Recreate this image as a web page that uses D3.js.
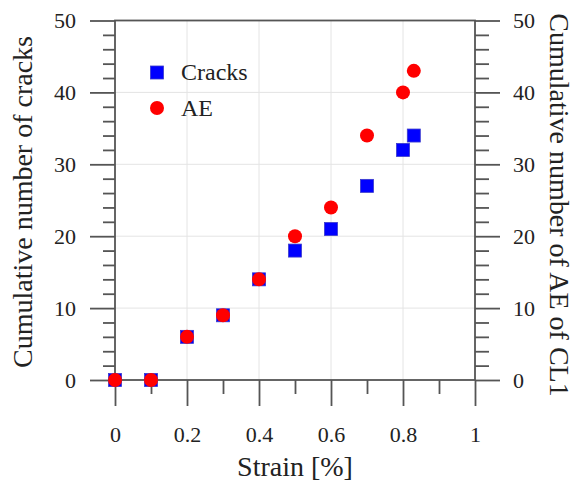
<!DOCTYPE html>
<html>
<head>
<meta charset="utf-8">
<script src="https://cdn.jsdelivr.net/npm/d3@7"></script>
<style>
  body { margin: 0; background: #fff; }
</style>
</head>
<body>
<svg width="585" height="486"></svg>
<script>
const strain = [0, 0.1, 0.2, 0.3, 0.4, 0.5, 0.6, 0.7, 0.8, 0.83];
const cracks = [0, 0, 6, 9, 14, 18, 21, 27, 32, 34];
const aeStrain = [0, 0.1, 0.2, 0.3, 0.4, 0.5, 0.6, 0.7, 0.8, 0.83];
const ae = [0, 0, 6, 9, 14, 20, 24, 34, 40, 43];
const xTicks = [0, 0.2, 0.4, 0.6, 0.8, 1];
const xMinor = [0.1, 0.3, 0.5, 0.7, 0.9];
const yTicks = [0, 10, 20, 30, 40, 50];
const yMinor = d3.range(2, 50, 2).filter(d => d % 10 !== 0);

const serif = "Times New Roman, Liberation Serif, Tinos, Noto Serif, DejaVu Serif, FreeSerif, serif";
const svg = d3.select("svg");
const mLeft = 115, mRight = 475, mTop = 20.5, mBottom = 380;
const x = d3.scaleLinear().domain([0, 1]).range([mLeft, mRight]);
const y = d3.scaleLinear().domain([0, 50]).range([mBottom, mTop]);
const axisCol = "#555";

// grid
const grid = svg.append("g");
grid.selectAll("line.gx").data(xTicks.slice(1, -1)).join("line")
  .attr("x1", d => x(d)).attr("x2", d => x(d))
  .attr("y1", mTop).attr("y2", mBottom)
  .attr("stroke", "#e4e4e4").attr("stroke-width", 1);
grid.selectAll("line.gy").data(yTicks.slice(1, -1)).join("line")
  .attr("y1", d => y(d)).attr("y2", d => y(d))
  .attr("x1", mLeft).attr("x2", mRight)
  .attr("stroke", "#e4e4e4").attr("stroke-width", 1);

function styleAxis(g) {
  g.attr("font-family", null).attr("font-size", null);
  g.select(".domain").remove();
  g.selectAll(".tick line").attr("stroke", axisCol).attr("stroke-width", 1.8);
  g.selectAll(".tick text").attr("fill", "#222")
    .style("font-family", serif).style("font-size", "22px");
}

// left axis
svg.append("g").attr("transform", `translate(${mLeft},0)`)
  .call(d3.axisLeft(y).tickValues(yTicks).tickSize(25).tickPadding(14))
  .call(styleAxis);
svg.append("g").attr("transform", `translate(${mLeft},0)`)
  .call(d3.axisLeft(y).tickValues(yMinor).tickSize(12).tickFormat(""))
  .call(styleAxis);

// right axis
svg.append("g").attr("transform", `translate(${mRight},0)`)
  .call(d3.axisRight(y).tickValues(yTicks).tickSize(25).tickPadding(13))
  .call(styleAxis);
svg.append("g").attr("transform", `translate(${mRight},0)`)
  .call(d3.axisRight(y).tickValues(yMinor).tickSize(14).tickFormat(""))
  .call(styleAxis);

// bottom axis
svg.append("g").attr("transform", `translate(0,${mBottom})`)
  .call(d3.axisBottom(x).tickValues(xTicks).tickSize(26).tickPadding(20).tickFormat(d3.format("~g")))
  .call(styleAxis);
svg.append("g").attr("transform", `translate(0,${mBottom})`)
  .call(d3.axisBottom(x).tickValues(xMinor).tickSize(14).tickFormat(""))
  .call(styleAxis);

// frame
svg.append("rect")
  .attr("x", mLeft).attr("y", mTop)
  .attr("width", mRight - mLeft).attr("height", mBottom - mTop)
  .attr("fill", "none").attr("stroke", axisCol).attr("stroke-width", 1.8);

// data
const crackData = strain.map((s, i) => ({ s: s, v: cracks[i] }));
const aeData = aeStrain.map((s, i) => ({ s: s, v: ae[i] }));
const sq = 13;
svg.append("g").selectAll("rect").data(crackData).join("rect")
  .attr("x", d => x(d.s) - sq / 2).attr("y", d => y(d.v) - sq / 2)
  .attr("width", sq).attr("height", sq)
  .attr("fill", "#0000ff").attr("stroke", "#3a3acc").attr("stroke-width", 0.8);
svg.append("g").selectAll("circle").data(aeData).join("circle")
  .attr("cx", d => x(d.s)).attr("cy", d => y(d.v)).attr("r", 7)
  .attr("fill", "#ff0000");

// legend
const lg = svg.append("g");
lg.append("rect").attr("x", 157 - sq / 2).attr("y", 72.5 - sq / 2)
  .attr("width", sq).attr("height", sq)
  .attr("fill", "#0000ff").attr("stroke", "#3a3acc").attr("stroke-width", 0.8);
lg.append("circle").attr("cx", 157).attr("cy", 108).attr("r", 7).attr("fill", "#ff0000");
lg.selectAll("text").data([["Cracks", 80], ["AE", 116]]).join("text")
  .attr("x", 181).attr("y", d => d[1]).text(d => d[0])
  .style("font-family", serif).style("font-size", "24px").attr("fill", "#222");

// axis titles
const titles = [
  { t: "Cumulative number of cracks", tr: "translate(32,202) rotate(-90)" },
  { t: "Cumulative number of AE of CL1", tr: "translate(550,205) rotate(90)" },
  { t: "Strain [%]", tr: "translate(295,476)" }
];
svg.append("g").selectAll("text").data(titles).join("text")
  .attr("transform", d => d.tr)
  .attr("text-anchor", "middle")
  .style("font-family", serif).style("font-size", "28px").attr("fill", "#222")
  .text(d => d.t);
</script>
</body>
</html>
